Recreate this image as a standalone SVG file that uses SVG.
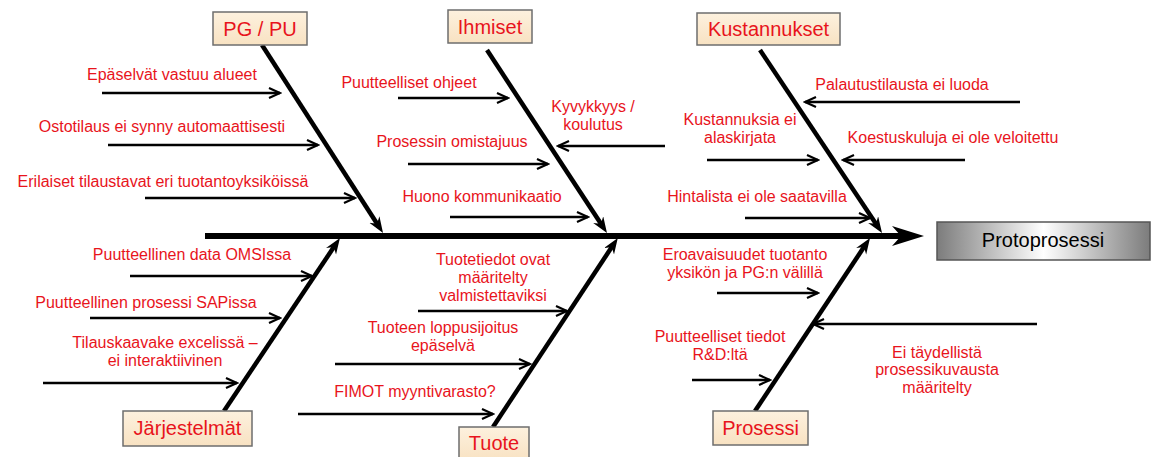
<svg xmlns="http://www.w3.org/2000/svg" width="1157" height="457" viewBox="0 0 1157 457">
  <defs>
    <style>
      .cat-box { fill: url(#catFill); stroke: #6e6e6e; stroke-width: 1.5; }
      .cat-text { font-family: "Liberation Sans", Arial, sans-serif; font-size: 20px; fill: #e8141c; text-anchor: middle; }
      .cause { font-family: "Liberation Sans", Arial, sans-serif; font-size: 16px; fill: #e8141c; text-anchor: middle; }
      .bone { stroke: #000; stroke-width: 4.5; fill: none; marker-end: url(#boneHead); }
      .branch { stroke: #000; stroke-width: 2.5; fill: none; marker-end: url(#chev); }
      .spine { stroke: #000; stroke-width: 6; fill: none; marker-end: url(#spineHead); }
    </style>
    <linearGradient id="catFill" x1="0" y1="0" x2="0" y2="1">
      <stop offset="0" stop-color="#fdf1de"/>
      <stop offset="1" stop-color="#f8e2c2"/>
    </linearGradient>
    <linearGradient id="effectFill" x1="0" y1="0" x2="1" y2="0">
      <stop offset="0" stop-color="#7c7c7c"/>
      <stop offset="0.5" stop-color="#ffffff"/>
      <stop offset="1" stop-color="#7c7c7c"/>
    </linearGradient>
    <marker id="chev" markerWidth="14" markerHeight="14" refX="12" refY="6" orient="auto" markerUnits="userSpaceOnUse">
      <path d="M1,1 L12,6 L1,11" fill="none" stroke="#000" stroke-width="2.2"/>
    </marker>
    <marker id="boneHead" markerWidth="18" markerHeight="14" refX="8" refY="6" orient="auto" markerUnits="userSpaceOnUse">
      <path d="M0,0 L16,6 L0,12 L5,6 z" fill="#000"/>
    </marker>
    <marker id="spineHead" markerWidth="34" markerHeight="22" refX="13" refY="10" orient="auto" markerUnits="userSpaceOnUse">
      <path d="M0,0 L32,10 L0,20 L9,10 z" fill="#000"/>
    </marker>
  </defs>

  <rect width="1157" height="457" fill="#fff"/>

  <!-- main spine and category bones -->
  <g id="connectors">
    <line class="spine" x1="205" y1="236" x2="905" y2="236"/>

    <line class="bone" x1="262" y1="45" x2="378.7" y2="226.3"/>
    <line class="bone" x1="487" y1="50" x2="602.6" y2="226.3"/>
    <line class="bone" x1="760" y1="50" x2="877.6" y2="226.3"/>
    <line class="bone" x1="224" y1="411" x2="335.5" y2="244.6"/>
    <line class="bone" x1="493" y1="427" x2="613.4" y2="244.6"/>
    <line class="bone" x1="755" y1="411" x2="865.6" y2="244.6"/>

    <!-- PG / PU causes -->
    <line class="branch" x1="102" y1="93" x2="280" y2="93"/>
    <line class="branch" x1="108" y1="145" x2="318" y2="145"/>
    <line class="branch" x1="145" y1="198" x2="355" y2="198"/>
    <!-- Ihmiset causes -->
    <line class="branch" x1="398" y1="98" x2="508" y2="98"/>
    <line class="branch" x1="665" y1="146" x2="558" y2="146"/>
    <line class="branch" x1="408" y1="164" x2="548" y2="164"/>
    <line class="branch" x1="450" y1="217" x2="588" y2="217"/>
    <!-- Kustannukset causes -->
    <line class="branch" x1="1020" y1="102" x2="805" y2="102"/>
    <line class="branch" x1="707" y1="160" x2="818" y2="160"/>
    <line class="branch" x1="965" y1="160" x2="843" y2="160"/>
    <line class="branch" x1="745" y1="218" x2="870" y2="218"/>
    <!-- Järjestelmät causes -->
    <line class="branch" x1="130" y1="276" x2="312" y2="276"/>
    <line class="branch" x1="90" y1="318" x2="280" y2="318"/>
    <line class="branch" x1="43" y1="383" x2="237" y2="383"/>
    <!-- Tuote causes -->
    <line class="branch" x1="418" y1="311" x2="567" y2="311"/>
    <line class="branch" x1="335" y1="364" x2="530" y2="364"/>
    <line class="branch" x1="298" y1="414" x2="493" y2="414"/>
    <!-- Prosessi causes -->
    <line class="branch" x1="717" y1="293" x2="818" y2="293"/>
    <line class="branch" x1="1037" y1="324" x2="813" y2="324"/>
    <line class="branch" x1="692" y1="380" x2="770" y2="380"/>
  </g>

  <!-- effect -->
  <g id="protoprosessi">
    <rect x="937" y="222" width="213" height="38" fill="url(#effectFill)" stroke="#555" stroke-width="1.5"/>
    <text x="1043" y="247" font-family="Liberation Sans, Arial, sans-serif" font-size="20" fill="#000" text-anchor="middle">Protoprosessi</text>
  </g>

  <!-- categories -->
  <g id="pg-pu">
    <rect class="cat-box" x="213" y="12" width="94" height="33"/>
    <text class="cat-text" x="260" y="35.5">PG / PU</text>
  </g>
  <g id="ihmiset">
    <rect class="cat-box" x="448" y="10" width="84" height="33"/>
    <text class="cat-text" x="490" y="33.5">Ihmiset</text>
  </g>
  <g id="kustannukset">
    <rect class="cat-box" x="697" y="13" width="143" height="32"/>
    <text class="cat-text" x="768.5" y="35.5">Kustannukset</text>
  </g>
  <g id="jarjestelmat">
    <rect class="cat-box" x="123" y="411" width="129" height="35"/>
    <text class="cat-text" x="187.5" y="435">Järjestelmät</text>
  </g>
  <g id="tuote">
    <rect class="cat-box" x="459" y="427" width="70" height="34"/>
    <text class="cat-text" x="494" y="450">Tuote</text>
  </g>
  <g id="prosessi">
    <rect class="cat-box" x="713" y="411" width="95" height="34"/>
    <text class="cat-text" x="760.5" y="435">Prosessi</text>
  </g>

  <!-- cause labels -->
  <g id="causes-pg-pu">
    <text class="cause" x="172" y="80">Epäselvät vastuu alueet</text>
    <text class="cause" x="162" y="132">Ostotilaus ei synny automaattisesti</text>
    <text class="cause" x="163" y="187">Erilaiset tilaustavat eri tuotantoyksiköissä</text>
  </g>
  <g id="causes-ihmiset">
    <text class="cause" x="409" y="88">Puutteelliset ohjeet</text>
    <text class="cause" x="593" y="112">Kyvykkyys /</text>
    <text class="cause" x="593" y="130">koulutus</text>
    <text class="cause" x="452" y="147">Prosessin omistajuus</text>
    <text class="cause" x="482" y="202">Huono kommunikaatio</text>
  </g>
  <g id="causes-kustannukset">
    <text class="cause" x="902" y="90">Palautustilausta ei luoda</text>
    <text class="cause" x="740" y="125">Kustannuksia ei</text>
    <text class="cause" x="740" y="143">alaskirjata</text>
    <text class="cause" x="953" y="143">Koestuskuluja ei ole veloitettu</text>
    <text class="cause" x="757" y="202">Hintalista ei ole saatavilla</text>
  </g>
  <g id="causes-jarjestelmat">
    <text class="cause" x="192" y="260">Puutteellinen data OMSIssa</text>
    <text class="cause" x="146" y="308">Puutteellinen prosessi SAPissa</text>
    <text class="cause" x="165" y="348">Tilauskaavake excelissä –</text>
    <text class="cause" x="165" y="366">ei interaktiivinen</text>
  </g>
  <g id="causes-tuote">
    <text class="cause" x="493" y="265">Tuotetiedot ovat</text>
    <text class="cause" x="493" y="283">määritelty</text>
    <text class="cause" x="493" y="301">valmistettaviksi</text>
    <text class="cause" x="443" y="333">Tuoteen loppusijoitus</text>
    <text class="cause" x="443" y="351">epäselvä</text>
    <text class="cause" x="415" y="397">FIMOT myyntivarasto?</text>
  </g>
  <g id="causes-prosessi">
    <text class="cause" x="745" y="260">Eroavaisuudet tuotanto</text>
    <text class="cause" x="745" y="278">yksikön ja PG:n välillä</text>
    <text class="cause" x="720" y="342">Puutteelliset tiedot</text>
    <text class="cause" x="720" y="360">R&amp;D:ltä</text>
    <text class="cause" x="937" y="358">Ei täydellistä</text>
    <text class="cause" x="937" y="375">prosessikuvausta</text>
    <text class="cause" x="937" y="393">määritelty</text>
  </g>
</svg>
